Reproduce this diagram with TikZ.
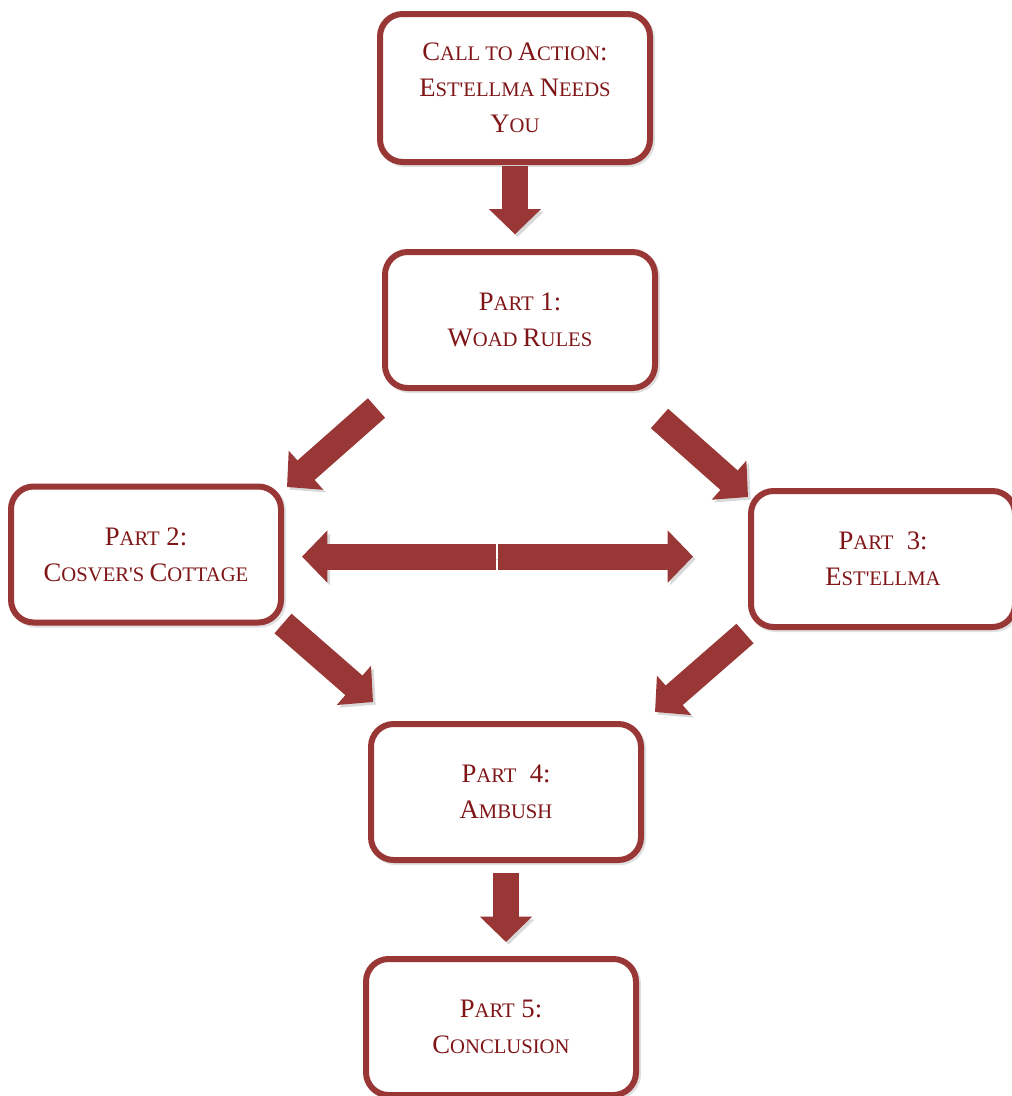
\documentclass[tikz,border=0pt]{standalone}
\usepackage{fontspec}
\setmainfont{Liberation Serif}
\usetikzlibrary{arrows.meta,calc}
\definecolor{boxred}{HTML}{983735}
\definecolor{textred}{HTML}{7F1517}
% capital, then the rest in smaller capitals
\newcommand\smc[2]{{\fontsize{20}{27}\selectfont #1}{\fontsize{15.5}{27}\selectfont\MakeUppercase{#2}}}

\begin{document}
\begin{tikzpicture}[x=0.75pt,y=-0.75pt,
                    box/.style={draw=boxred,line width=4.5pt,rounded corners=17pt,
                                fill=white,minimum width=202.5pt,minimum height=102pt,
                                align=center,text=textred,
                                font=\fontsize{20}{27}\selectfont,
                                preaction={draw=black!12,transform canvas={xshift=1.5pt,yshift=-1.5pt}}},
                    fat/.style={draw=boxred,line width=19.5pt,
                                -{Triangle[length=19pt,width=38pt]},
                                preaction={draw=black!15,transform canvas={xshift=2pt,yshift=-2pt}}}]

  \useasboundingbox (0,0) rectangle (1011,1096);

  \node[box,minimum height=111pt] (top) at (515,88)
    {\smc{C}{all to }\smc{A}{ction}:\\\smc{E}{st\textquotesingle ellma }\smc{N}{eeds}\\\smc{Y}{ou}};
  \node[box] (p1) at (520,320) {\smc{P}{art} 1:\\\smc{W}{oad }\smc{R}{ules}};
  \node[box] (p2) at (146,554.5) {\smc{P}{art} 2:\\\smc{C}{osver\textquotesingle s }\smc{C}{ottage}};
  \node[box,minimum width=198pt] (p3) at (883,559) {\smc{P}{art}\ \ 3:\\\smc{E}{st\textquotesingle ellma}};
  \node[box] (p4) at (506,792) {\smc{P}{art}\ \ 4:\\\smc{A}{mbush}};
  \node[box] (p5) at (501,1027) {\smc{P}{art} 5:\\\smc{C}{onclusion}};

  \coordinate (mid) at ($(p2.east)!0.46!(p3.west)$);

  % flow arrows
  \draw[fat,shorten <=0.75pt,shorten >=11pt] (top.south) -- (top.south |- p1.north);
  \draw[fat] ([shift={(-5.5,17)}]p1.south west) -- ([shift={(3,3.5)}]p2.north east);
  \draw[fat] ([shift={(1.5,27.5)}]p1.south east) -- ([shift={(0,9)}]p3.north west);
  \draw[fat,shorten >=13.5pt,shorten <=0.75pt] (mid) -- (mid -| p2.east);
  \draw[fat,shorten >=41.25pt,shorten <=0.75pt] (mid) -- (mid -| p3.west);
  \draw[fat] ([shift={(-1,-2)}]p2.south east) -- ([shift={(5,-19)}]p4.north west);
  \draw[fat] ([shift={(-3,3.5)}]p3.south west) -- ([shift={(11,-9)}]p4.north east);
  \draw[fat,shorten <=7.5pt,shorten >=10.5pt] (p4.south) -- (p4.south |- p5.north);
\end{tikzpicture}
\end{document}
